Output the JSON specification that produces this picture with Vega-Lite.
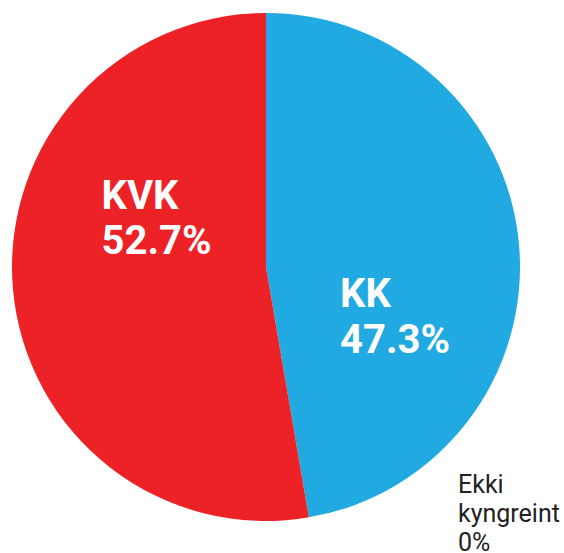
{
  "$schema": "https://vega.github.io/schema/vega-lite/v6.json",
  "width": 532,
  "height": 534,
  "autosize": {"type": "none"},
  "padding": {"left": 0, "top": 0, "right": 32, "bottom": 19},
  "background": "white",
  "config": {"view": {"stroke": null}},
  "data": {
    "values": [
      {"category": "KK", "value": 47.3, "order": 1, "label": "KK\n47.3%"},
      {"category": "KVK", "value": 52.7, "order": 2, "label": "KVK\n52.7%"},
      {"category": "Ekki kyngreint", "value": 0, "order": 3, "label": "Ekki\nkyngreint\n0%"}
    ]
  },
  "encoding": {
    "theta": {"field": "value", "type": "quantitative", "stack": true},
    "order": {"field": "order", "type": "quantitative"}
  },
  "layer": [
    {
      "mark": {"type": "arc", "outerRadius": 254},
      "encoding": {
        "color": {
          "field": "category",
          "type": "nominal",
          "scale": {"domain": ["KK", "KVK", "Ekki kyngreint"], "range": ["#21A9E1", "#EC2227", "#9A9A9A"]},
          "legend": null
        }
      }
    },
    {
      "mark": {"type": "text", "lineBreak": "\n", "font": "Roboto", "fontWeight": "bold", "fontSize": 40, "lineHeight": 46, "align": "left", "baseline": "alphabetic", "fill": "white", "radius": 80, "dx": -5.7, "dy": 46.8},
      "encoding": {
        "text": {"condition": {"test": "datum.category == 'KK'", "field": "label"}, "value": ""}
      }
    },
    {
      "mark": {"type": "text", "lineBreak": "\n", "font": "Roboto", "fontWeight": "bold", "fontSize": 40, "lineHeight": 45, "align": "left", "baseline": "alphabetic", "fill": "white", "radius": 150, "dx": -15, "dy": -70.7},
      "encoding": {
        "text": {"condition": {"test": "datum.category == 'KVK'", "field": "label"}, "value": ""}
      }
    },
    {
      "mark": {"type": "text", "lineBreak": "\n", "font": "Roboto", "fontWeight": "normal", "fontSize": 25, "lineHeight": 29, "align": "left", "baseline": "alphabetic", "fill": "#222222", "radius": 254, "dx": 192, "dy": 480},
      "encoding": {
        "text": {"condition": {"test": "datum.category == 'Ekki kyngreint'", "field": "label"}, "value": ""}
      }
    }
  ]
}
